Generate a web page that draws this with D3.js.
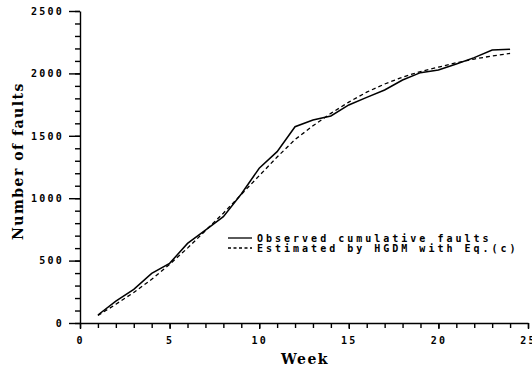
<!DOCTYPE html>
<html>
<head>
<meta charset="utf-8">
<script src="https://cdn.jsdelivr.net/npm/d3@7"></script>
<style>
  body { margin: 0; background: #fff; }
  svg { display: block; }
  .tick text { font-family: "DejaVu Sans Mono", monospace; font-weight: bold; font-size: 10px; letter-spacing: 2.2px; }
  .title { font-family: "DejaVu Serif", serif; font-weight: bold; font-size: 14px; letter-spacing: 1.5px; }
  .legend { font-family: "DejaVu Sans Mono", monospace; font-weight: bold; font-size: 10px; letter-spacing: 3px; }
</style>
</head>
<body>
<svg width="532" height="368"></svg>
<script>
const weeks = d3.range(1, 25);
const observed = [64, 176, 270, 398, 478, 638, 745, 852, 1034, 1240, 1373, 1573,
    1627, 1659, 1747, 1808, 1867, 1947, 2006, 2027, 2075, 2126, 2188, 2193];
const estimated = [60, 150, 245, 350, 470, 600, 740, 880, 1030, 1180, 1330, 1470,
    1580, 1680, 1770, 1850, 1915, 1970, 2015, 2050, 2085, 2115, 2140, 2160];
const xTicks = [0, 5, 10, 15, 20, 25];
const yTicks = [0, 500, 1000, 1500, 2000, 2500];
const legendLabels = ["Observed cumulative faults", "Estimated by HGDM with Eq.(c)"];

const svg = d3.select("svg");
const x = d3.scaleLinear().domain([0, 25]).range([80, 528]);
const y = d3.scaleLinear().domain([0, 2500]).range([323, 11]);

// minor ticks first, then the main axes on top
svg.append("g")
    .attr("transform", `translate(0,${y(0)})`)
    .call(d3.axisBottom(x).tickValues(d3.range(0, 26)).tickSize(5).tickFormat(""))
    .call(g => g.select(".domain").remove());
svg.append("g")
    .attr("transform", `translate(${x(0)},0)`)
    .call(d3.axisLeft(y).tickValues(d3.range(0, 2501, 100)).tickSize(5).tickFormat(""))
    .call(g => g.select(".domain").remove());

svg.append("g")
    .attr("transform", `translate(0,${y(0)})`)
    .call(d3.axisBottom(x).tickValues(xTicks).tickSize(6).tickSizeOuter(0)
        .tickPadding(8).tickFormat(d3.format("d")));
svg.append("g")
    .attr("transform", `translate(${x(0)},0)`)
    .call(d3.axisLeft(y).tickValues(yTicks).tickSize(11).tickSizeOuter(0)
        .tickPadding(5).tickFormat(d3.format("d")));

svg.selectAll(".domain, .tick line").attr("stroke", "#000").attr("stroke-width", 1.4);

svg.append("text").attr("class", "title")
    .attr("x", 305).attr("y", 364).attr("text-anchor", "middle")
    .text("Week");
svg.append("text").attr("class", "title")
    .attr("transform", "translate(23,161) rotate(-90)")
    .attr("text-anchor", "middle")
    .text("Number of faults");

const line = d3.line().x((d, i) => x(weeks[i])).y(d => y(d));

svg.append("path").datum(observed)
    .attr("fill", "none").attr("stroke", "#000").attr("stroke-width", 1.5)
    .attr("d", line);
svg.append("path").datum(estimated)
    .attr("fill", "none").attr("stroke", "#000").attr("stroke-width", 1.3)
    .attr("stroke-dasharray", "4,3")
    .attr("d", line);

const legend = svg.append("g");
legendLabels.forEach((label, i) => {
    const ly = 238 + i * 10;
    legend.append("line")
        .attr("x1", 228).attr("x2", 252).attr("y1", ly).attr("y2", ly)
        .attr("stroke", "#000").attr("stroke-width", 1.3)
        .attr("stroke-dasharray", i === 0 ? null : "3,2.5");
    legend.append("text").attr("class", "legend")
        .attr("x", 257).attr("y", ly + 4)
        .text(label);
});
</script>
</body>
</html>
